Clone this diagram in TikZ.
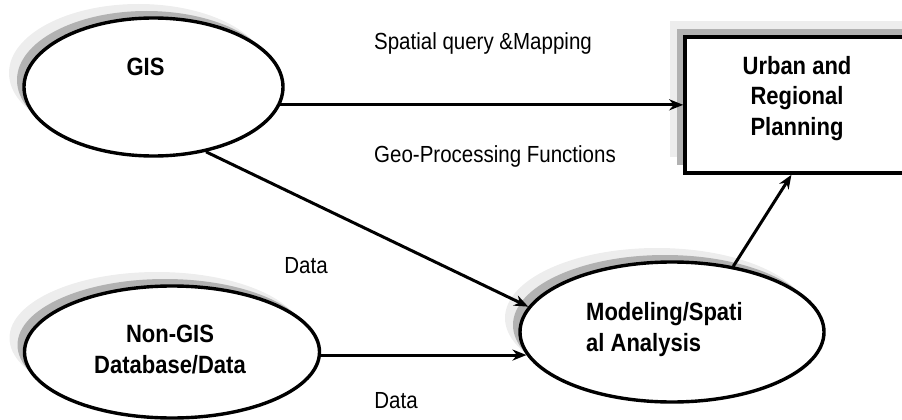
\documentclass[tikz,border=0pt]{standalone}
\usepackage{fontspec}
\usepackage{graphicx}
\setmainfont{Liberation Sans}
\usetikzlibrary{shapes.geometric,arrows.meta,shadows}
\newcommand\narrow[1]{\scalebox{0.88}[1]{#1}}
\begin{document}
\begin{tikzpicture}[x=1pt,y=-1pt,
  shad/.style={copy shadow={shadow xshift=-15pt,shadow yshift=14pt,fill=black!7,draw=none},
               copy shadow={shadow xshift=-7pt,shadow yshift=7pt,fill=black!30,draw=none}},
  ell/.style={ellipse,draw=black,line width=3.4pt,fill=white,inner sep=0pt,shad},
  boxnode/.style={rectangle,draw=black,line width=3.6pt,fill=white,inner sep=0pt,
               copy shadow={shadow xshift=-15pt,shadow yshift=16pt,fill=black!7,draw=none},
               copy shadow={shadow xshift=-8pt,shadow yshift=8pt,fill=black!30,draw=none}},
  arr/.style={line width=3pt,-{Stealth[length=14pt,width=11pt]}},
  lbl/.style={font=\fontsize{23.3}{28}\selectfont,inner sep=0pt,anchor=base},
  ttl/.style={font=\fontsize{25}{30.5}\selectfont\bfseries,inner sep=0pt,anchor=base}
]
\useasboundingbox (0,0) rectangle (902,420);
\node[boxnode,minimum width=240pt,minimum height=136pt] (urban) at (805,105) {};
\node[ell,minimum width=259pt,minimum height=138pt] (gis) at (153.5,87) {};
\node[ell,minimum width=304pt,minimum height=140pt] (model) at (672,332) {};
\node[ell,minimum width=295pt,minimum height=132pt] (nongis) at (172,352) {};

\node[ttl] (gistxt) at (145.5,76) {\narrow{GIS}};
\node[ttl,align=center] (urbantxt) at (797,135) {\narrow{Urban and}\\\narrow{Regional}\\\narrow{Planning}};
\node[ttl,align=left,anchor=base west] (modeltxt) at (586,351) {\narrow{Modeling/Spati}\\\narrow{al Analysis}};
\node[ttl,align=center] (nongistxt) at (170,373) {\narrow{Non-GIS}\\\narrow{Database/Data}};

\node[lbl] (l1) at (483,50) {\narrow{Spatial query \&Mapping}};
\node[lbl] (l2) at (495,162.5) {\narrow{Geo-Processing Functions}};
\node[lbl] (l3) at (306,273) {\narrow{Data}};
\node[lbl] (l4) at (396,408) {\narrow{Data}};

\coordinate (g1) at (gis.-8);
\draw[arr] (g1) -- (g1 -| urban.west);
\draw[arr] (gis.-51) -- (model.170);
\coordinate (m2) at (model.189);
\draw[arr] (m2 -| nongis.east) -- (m2);
\draw[arr] (model.47) -- (urban.-101);
\end{tikzpicture}
\end{document}
